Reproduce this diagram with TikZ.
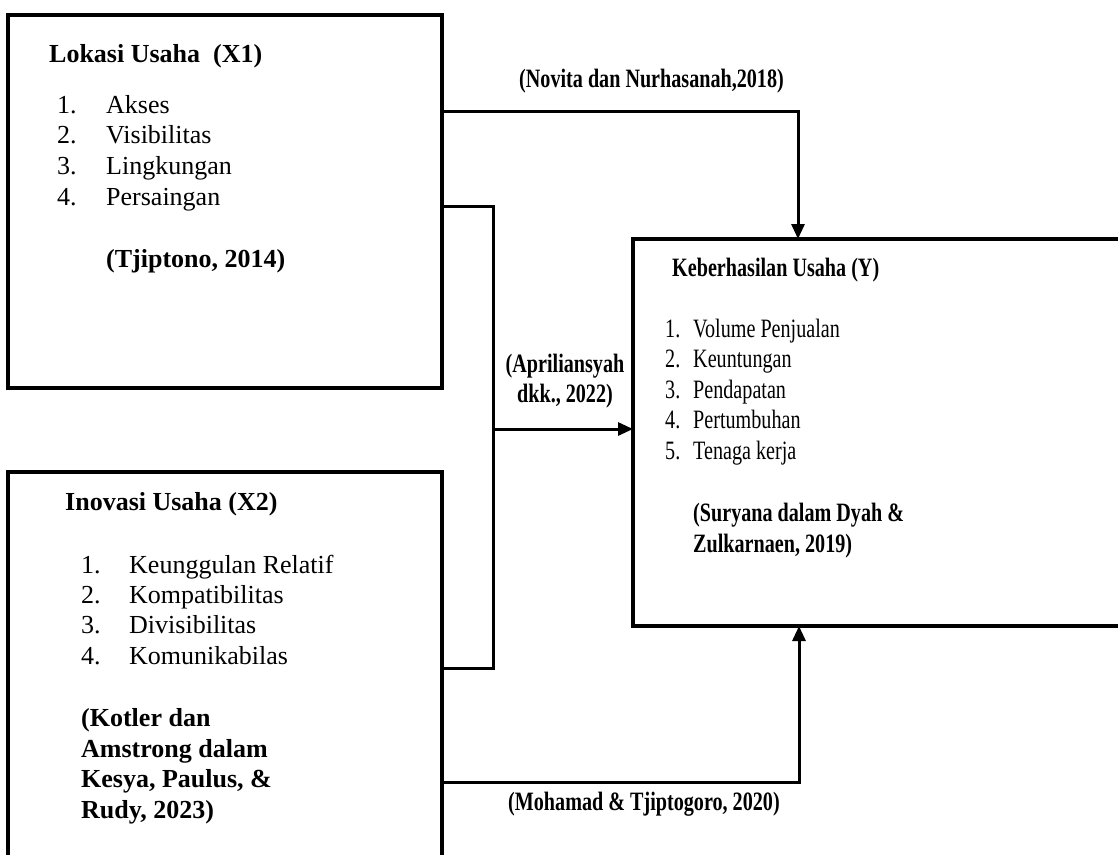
\documentclass[tikz,border=0pt]{standalone}
\usepackage{fontspec}
\setmainfont{Liberation Serif}
\newfontfamily\condfont{Liberation Serif}[FakeStretch=0.76]
\usetikzlibrary{arrows.meta}
\begin{document}
\begin{tikzpicture}[x=1pt,y=-1pt,
  box/.style={draw,line width=3.5pt,inner sep=0pt,outer sep=0pt},
  conn/.style={line width=3pt,line join=miter},
  arr/.style={conn,-{Triangle[length=15pt,width=13pt]}},
  txt/.style={anchor=base west,inner sep=0pt,font=\fontsize{26}{30}\selectfont},
  btxt/.style={anchor=base west,inner sep=0pt,font=\fontsize{26}{30}\selectfont\bfseries},
  ctxt/.style={anchor=base west,inner sep=0pt,font=\condfont\fontsize{26.5}{30}\selectfont},
  cbtxt/.style={anchor=base west,inner sep=0pt,font=\condfont\fontsize{26.5}{30}\selectfont\bfseries},
  ]
\useasboundingbox (0,0) rectangle (1118,854);
\clip (0,0) rectangle (1118,854);

% boxes
\node[box,minimum width=434pt,minimum height=373pt] (x1) at (225,201.5) {};
\node[box,minimum width=434pt,minimum height=440pt] (x2) at (225,692) {};
\node[box,minimum width=527pt,minimum height=387pt] (y) at (896.5,432.5) {};

% box X1 content
\node[btxt] (x1t) at (49,62) {Lokasi Usaha\ \ (X1)};
\foreach \t [count=\i] in {Akses,Visibilitas,Lingkungan,Persaingan}{
  \node[txt] (x1n\i) at (57,{113+30.7*(\i-1)}) {\i.};
  \node[txt] (x1i\i) at (106,{113+30.7*(\i-1)}) {\t};
}
\node[btxt] (x1c) at (106,267) {(Tjiptono, 2014)};

% box X2 content
\node[btxt] (x2t) at (65,510) {Inovasi Usaha (X2)};
\foreach \t [count=\i] in {Keunggulan Relatif,Kompatibilitas,Divisibilitas,Komunikabilas}{
  \node[txt] (x2n\i) at (81,{573+30.4*(\i-1)}) {\i.};
  \node[txt] (x2i\i) at (129,{573+30.4*(\i-1)}) {\t};
}
\node[btxt] (x2c1) at (81,726) {(Kotler dan};
\node[btxt] (x2c2) at (81,757) {Amstrong dalam};
\node[btxt] (x2c3) at (81,787) {Kesya, Paulus, \&};
\node[btxt] (x2c4) at (81,818) {Rudy, 2023)};

% box Y content
\node[cbtxt] (yt) at (672,276) {Keberhasilan Usaha (Y)};
\foreach \t [count=\i] in {Volume Penjualan,Keuntungan,Pendapatan,Pertumbuhan,Tenaga kerja}{
  \node[ctxt] (yn\i) at (665,{337+30.5*(\i-1)}) {\i.};
  \node[ctxt] (yi\i) at (693,{337+30.5*(\i-1)}) {\t};
}
\node[cbtxt] (yc1) at (693,521) {(Suryana dalam Dyah \&};
\node[cbtxt] (yc2) at (693,552) {Zulkarnaen, 2019)};

% connectors
\draw[arr] ([yshift=-96pt]x1.north east) -| ([xshift=165pt]y.north west);
\coordinate (j) at (493,429);
\draw[conn] ([yshift=-191pt]x1.north east) -| (j) |- ([yshift=-196pt]x2.north east);
\draw[arr] (j) -- (y.west |- j);
\draw[arr] ([yshift=-310pt]x2.north east) -| ([xshift=166pt]y.south west);

% connector labels
\node[cbtxt] (l1) at (519,87) {(Novita dan Nurhasanah,2018)};
\node[cbtxt,anchor=base] (l2a) at (565,372) {(Apriliansyah};
\node[cbtxt,anchor=base] (l2b) at (565,402) {dkk., 2022)};
\node[cbtxt] (l3) at (508,810) {(Mohamad \& Tjiptogoro, 2020)};
\end{tikzpicture}
\end{document}
